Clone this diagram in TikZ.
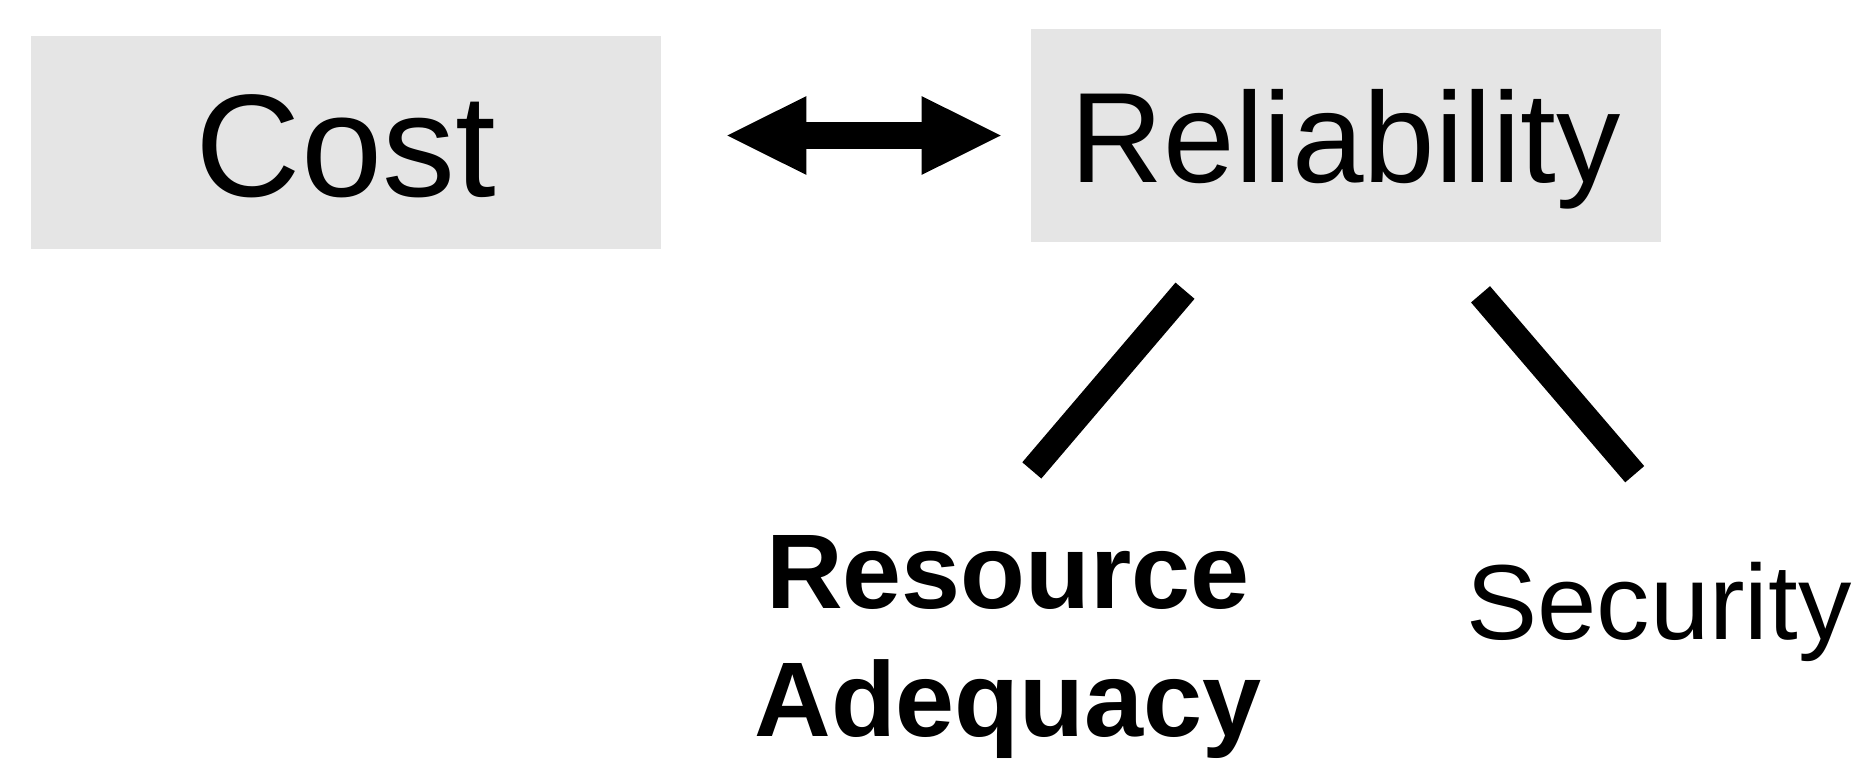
\documentclass[tikz,border=0pt]{standalone}
\usepackage{fontspec}
\setmainfont{Liberation Sans}
\usetikzlibrary{arrows.meta}
\definecolor{boxgray}{RGB}{229,229,229}
\tikzset{
  box/.style={fill=boxgray, draw=none, inner sep=0pt, minimum width=472.5pt, minimum height=159.75pt, text depth=0pt},
  label/.style={inner sep=0pt, text=black},
  thickline/.style={line width=18.75pt, line cap=butt},
  bigarrow/.style={line width=19.7pt,
    {Triangle[length=59.25pt,width=59pt,line width=0pt]}-{Triangle[length=59.25pt,width=59pt,line width=0pt]}}
}
\begin{document}
\begin{tikzpicture}[x=0.75pt,y=-0.75pt]
\useasboundingbox (0,0) rectangle (1857,758);
\node[box, text height=81.3pt, font=\fontsize{109.5pt}{120pt}\selectfont] (cost) at (346,142.5) {Cost};
\node[box, text height=70.8pt, font=\fontsize{96.4pt}{110pt}\selectfont] (rel) at (1346,135.5) {Reliability};
\node[label, anchor=north, align=center, font=\fontsize{79.6pt}{96pt}\selectfont\bfseries] (ra) at (1008,535) {Resource\\Adequacy};
\node[label, anchor=base, font=\fontsize{80pt}{96pt}\selectfont] (sec) at (1659,639.5) {Security};
\draw[bigarrow, shorten <=49.5pt, shorten >=22.5pt] (cost.east |- rel.west) -- (rel.west);
\coordinate (l1a) at (1185,290.7);
\coordinate (l1b) at (1031.8,470.4);
\coordinate (l2a) at (1480.5,294.3);
\coordinate (l2b) at (1634.7,474.2);
\draw[thickline] (l1a) -- (l1b);
\draw[thickline] (l2a) -- (l2b);
\end{tikzpicture}
\end{document}
